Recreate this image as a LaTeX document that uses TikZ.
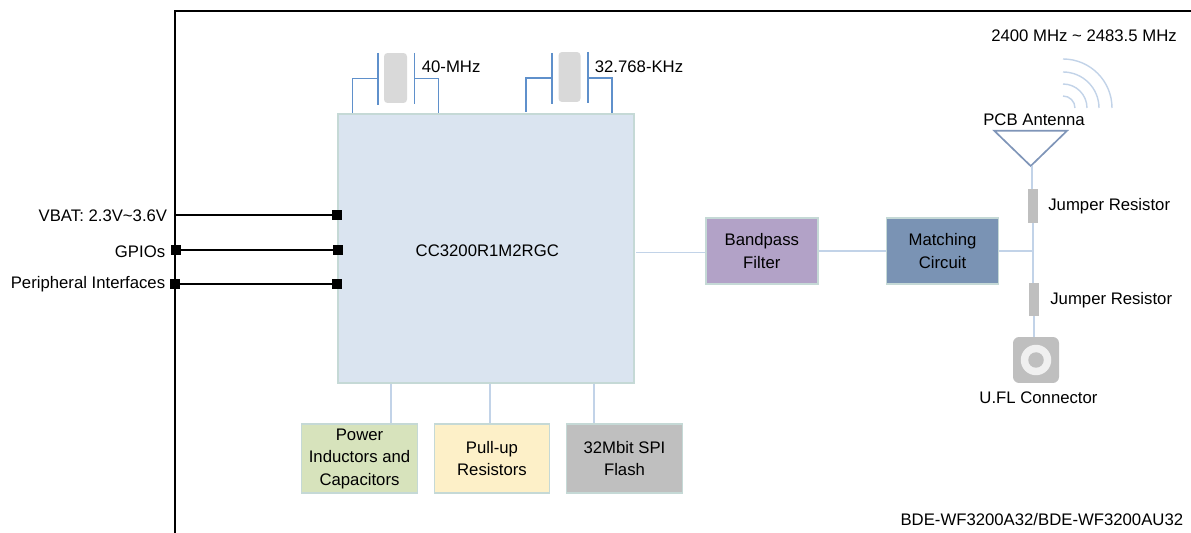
\documentclass[tikz,border=0pt]{standalone}
\usepackage{fontspec}
\setmainfont{Liberation Sans}
\usepackage{xcolor}
\definecolor{wirecol}{HTML}{C2D3E8}
\definecolor{edgecol}{HTML}{C5D9D6}
\definecolor{leadcol}{HTML}{5F90CB}
\definecolor{mcucol}{HTML}{DAE4F0}
\definecolor{bpfcol}{HTML}{B2A2C7}
\definecolor{matchcol}{HTML}{7A93B4}
\definecolor{powercol}{HTML}{D7E3BC}
\definecolor{pullcol}{HTML}{FDF0C8}
\definecolor{greycol}{HTML}{BFBFBF}
\definecolor{xtalcol}{HTML}{D9D9D9}
\definecolor{ringcol}{HTML}{F0F0F0}
\definecolor{antcol}{HTML}{7F95B8}
\tikzset{
  wire/.style={draw=wirecol, line width=0.9pt},
  lead/.style={draw=leadcol, line width=1pt},
  sig/.style={draw=black, line width=0.75pt},
  pin/.style={fill=black, inner sep=0pt, minimum size=0.19cm},
  block/.style={draw=edgecol, line width=0.9pt, align=center, inner sep=0pt, minimum width=2.24cm, minimum height=1.32cm, execute at begin node={\rule{0pt}{9.6pt}}},
  part/.style={fill=#1, inner sep=0pt},
  lbl/.style={inner sep=0pt}
}
\begin{document}
\begin{tikzpicture}[x=0.02cm, y=-0.02cm, font=\fontsize{9.52pt}{12.8pt}\selectfont]
\useasboundingbox (0,0) rectangle (1191,533);
\draw [line width=0.85pt] (175,533) -- (175,11) -- (1191,11);

\node (MCU) at (486,248.5) [block, fill=mcucol, minimum width=5.92cm, minimum height=5.38cm] {\hspace{1.5pt}CC3200R1M2RGC};
\node (BPF) at (761.8,251) [block, fill=bpfcol] {Bandpass\\Filter};
\node (MC) at (942.5,251) [block, fill=matchcol] {Matching\\Circuit};
\node (Power) at (359.5,458.5) [block, fill=powercol, minimum width=2.32cm, minimum height=1.38cm] {Power\\Inductors and\\Capacitors};
\node (Pull) at (492,458.5) [block, fill=pullcol, minimum width=2.3cm, minimum height=1.38cm] {Pull-up\\Resistors};
\node (Flash) at (624.5,458.5) [block, fill=greycol, minimum width=2.32cm, minimum height=1.38cm] {32Mbit SPI\\Flash};

\coordinate (B0) at (636,252.5);
\draw [wire] (B0) -- (B0 -| BPF.west);
\draw [wire] (BPF.east) -- (MC.west);
\coordinate (P1) at (391,384);
\coordinate (P2) at (490,384);
\coordinate (P3) at (594,384);
\draw [wire] (P1) -- (P1 |- Power.north);
\draw [wire] (P2) -- (P2 |- Pull.north);
\draw [wire] (P3) -- (P3 |- Flash.north);

\node (VLbl) at (167.5,216) [lbl, anchor=east] {VBAT: 2.3V\textasciitilde3.6V};
\node (GLbl) at (165.5,252) [lbl, anchor=east] {GPIOs};
\node (PLbl) at (165.5,284) [lbl, anchor=east] {Peripheral Interfaces};
\coordinate (V0) at (175,215);
\node (V1) at (337,215) [pin] {};
\node (G0) at (176,250) [pin] {};
\node (G1) at (338,250) [pin] {};
\node (P0) at (175,284) [pin] {};
\node (P4) at (337,284) [pin] {};
\draw [sig] (V0) -- (V1);
\draw [sig] (G0) -- (G1);
\draw [sig] (P0) -- (P4);

\node (XA) at (395.5,78) [part=xtalcol, rounded corners=2pt, minimum width=0.46cm, minimum height=1cm] {};
\node (XB) at (569.5,77) [part=xtalcol, rounded corners=2pt, minimum width=0.44cm, minimum height=1cm] {};
\coordinate (XA1) at (378,53);
\coordinate (XA2) at (378,105);
\coordinate (XA3) at (414.5,53);
\coordinate (XA4) at (414.5,104);
\coordinate (XB1) at (551.7,53);
\coordinate (XB2) at (551.7,104);
\coordinate (XB3) at (588,52);
\coordinate (XB4) at (588,103);
\draw [lead] (XA1) -- (XA2);
\draw [lead] (XA3) -- (XA4);
\draw [lead] (XB1) -- (XB2);
\draw [lead] (XB3) -- (XB4);
\draw [lead] (378,78.5) -| (352.5,113.5);
\draw [lead] (414.5,78.5) -| (438.5,113.5);
\draw [lead] (551.7,78) -| (526,112);
\draw [lead] (588,78) -| (612,113);
\node (XAL) at (421.5,66.5) [lbl, anchor=west] {40-MHz};
\node (XBL) at (594.5,66.5) [lbl, anchor=west] {32.768-KHz};

\node (Band) at (1084,36) [lbl] {2400 MHz \textasciitilde{} 2483.5 MHz};
\foreach \r in {12,24,36,49}
  \draw [wire, line width=0.8pt] (1063,108-\r) arc [start angle=90, end angle=0, radius=\r*0.02cm];
\node (AntL) at (1034,119.5) [lbl] {PCB Antenna};
\coordinate (AntA) at (994.3,130.8);
\coordinate (AntB) at (1067,130.8);
\coordinate (AntC) at (1030.7,166);
\draw [draw=antcol, line width=0.95pt] (AntA) -- (AntB) -- (AntC) -- cycle;

\node (J1) at (1033,206) [part=greycol, minimum width=0.21cm, minimum height=0.68cm] {};
\node (J2) at (1033.8,299.5) [part=greycol, minimum width=0.21cm, minimum height=0.66cm] {};
\node (J1L) at (1048,206.5) [lbl, anchor=west] {Jumper Resistor};
\node (J2L) at (1050,300.5) [lbl, anchor=west] {Jumper Resistor};
\node (UFL) at (1036,360) [part=greycol, rounded corners=3.5pt, minimum size=0.92cm] {};
\node (Ring) at (1036,360) [circle, part=ringcol, minimum size=0.61cm] {};
\node (Core) at (1036,360) [circle, part=greycol, minimum size=0.31cm] {};
\node (UFLL) at (1038.5,398) [lbl] {U.FL Connector};
\coordinate (Jn) at (1033,251);
\coordinate (An) at (1032,166);
\draw [wire] (An) -- (An |- J1.north);
\draw [wire] (J1.south) -- (Jn);
\draw [wire] (MC.east) -- (Jn);
\draw [wire] (Jn) -- (Jn |- J2.north);
\draw [wire] (J2.south) -- (J2.south |- UFL.north);

\node (Part) at (1183.5,520) [lbl, anchor=east] {BDE-WF3200A32/BDE-WF3200AU32};
\end{tikzpicture}
\end{document}
